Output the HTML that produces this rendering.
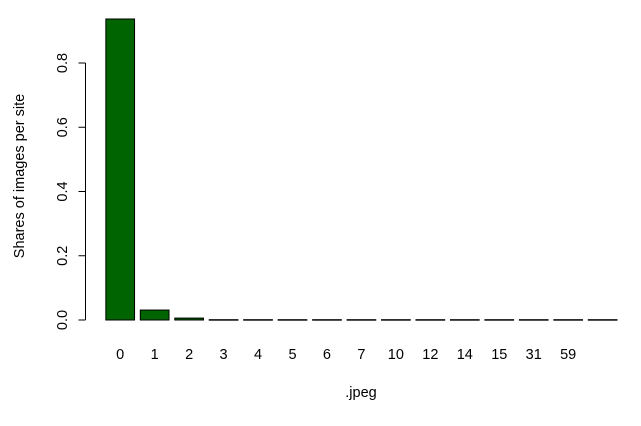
<!DOCTYPE html>
<html><head><meta charset="utf-8"><style>
html,body{margin:0;padding:0;background:#fff;}
svg{display:block;font-family:"Liberation Sans",Arial,sans-serif;}
</style></head><body>
<svg id="chart" width="641" height="426">
<g id="bars"></g>
<g id="yaxis"></g>
<g id="xlabels"></g>
<text x="361" y="397" font-size="14.5" text-anchor="middle">.jpeg</text>
<text x="0" y="0" font-size="14.5" text-anchor="middle" transform="translate(24,176) rotate(-90)">Shares of images per site</text>
</svg>
<script>
const categories = ["0","1","2","3","4","5","6","7","10","12","14","15","31","59",""];
const values = [0.937,0.031,0.006,0.001,0.001,0.001,0.001,0.001,0.001,0.001,0.001,0.001,0.001,0.001,0.001];
const yTicks = [0,0.2,0.4,0.6,0.8];
const tickLabels = ["0.0","0.2","0.4","0.6","0.8"];
const NS="http://www.w3.org/2000/svg";
const y0=320, pxPerUnit=321.25;
const y = v => y0 - v*pxPerUnit;
const step=34.46, firstCenter=120.2, barW=28.7;
const x = i => firstCenter + i*step;
const bars=document.getElementById('bars');
values.forEach((v,i)=>{
  const r=document.createElementNS(NS,'rect');
  r.setAttribute('x',x(i)-barW/2);
  r.setAttribute('y',y(v));
  r.setAttribute('width',barW);
  r.setAttribute('height',Math.max(y0-y(v),0.5));
  r.setAttribute('fill','#006400');
  r.setAttribute('stroke','#000');
  r.setAttribute('stroke-width','1');
  
  
  bars.appendChild(r);
});
const xl=document.getElementById('xlabels');
categories.forEach((c,i)=>{
  if(!c) return;
  const t=document.createElementNS(NS,'text');
  t.setAttribute('x',x(i)); t.setAttribute('y',359);
  t.setAttribute('font-size','14.5'); t.setAttribute('text-anchor','middle');
  t.textContent=c;
  
  
  xl.appendChild(t);
});
const ya=document.getElementById('yaxis');
const ax=85.5;
const l=document.createElementNS(NS,'line');
l.setAttribute('x1',ax);l.setAttribute('x2',ax);
l.setAttribute('y1',y(yTicks[0]));l.setAttribute('y2',y(yTicks[yTicks.length-1]));
l.setAttribute('stroke','#000');


ya.appendChild(l);
yTicks.forEach((v,i)=>{
  const tk=document.createElementNS(NS,'line');
  tk.setAttribute('x1',ax-7);tk.setAttribute('x2',ax);
  tk.setAttribute('y1',y(v));tk.setAttribute('y2',y(v));
  tk.setAttribute('stroke','#000');
  
  
  ya.appendChild(tk);
  const t=document.createElementNS(NS,'text');
  t.setAttribute('transform','translate(67,'+y(v)+') rotate(-90)');
  t.setAttribute('font-size','14.5'); t.setAttribute('text-anchor','middle');
  t.textContent=tickLabels[i];
  
  
  ya.appendChild(t);
});
</script>
</body></html>
